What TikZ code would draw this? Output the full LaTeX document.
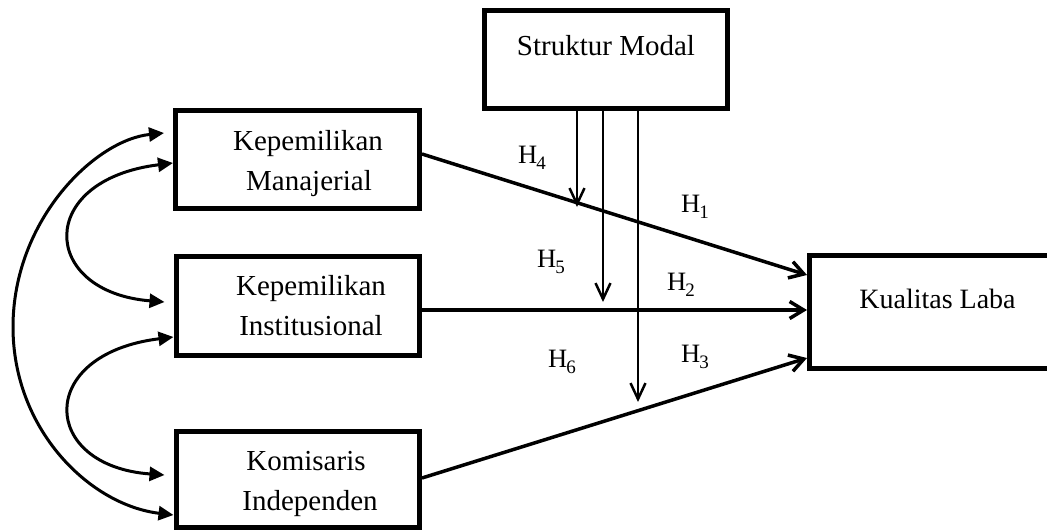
\documentclass[tikz,border=0pt]{standalone}
\usepackage{fontspec}
\setmainfont{Liberation Serif}
\usetikzlibrary{arrows.meta,calc}
\newcommand\Hlab[1]{H\kern-1pt\raisebox{-6.5pt}{\fontsize{19}{19}\selectfont #1}}
\tikzset{
  boxnode/.style={draw, line width=5pt, minimum width=#1, inner sep=0pt, rectangle},
  boxtext/.style={anchor=base, inner sep=0pt, font=\fontsize{29}{35}\selectfont},
  hlabel/.style={anchor=base west, inner sep=0pt, font=\fontsize{26.5}{30}\selectfont},
  patharrow/.style={line width=3.5pt, -{Straight Barb[length=14pt,width=17pt]}},
  modarrow/.style={line width=2.5pt, -{Straight Barb[length=16pt,width=15pt]}},
  corrarrow/.style={line width=3pt, {Triangle[length=15pt,width=14pt]}-{Triangle[length=15pt,width=14pt]}}
}
\begin{document}
\begin{tikzpicture}[x=1pt,y=-1pt]
\useasboundingbox (0,0) rectangle (1047,530);
% boxes
\node[boxnode=244pt, minimum height=98pt] (km) at (297.5,159.5) {};
\node[boxnode=243.5pt, minimum height=99pt] (ki) at (297.75,306) {};
\node[boxnode=243.5pt, minimum height=96pt] (kom) at (297.75,479.5) {};
\node[boxnode=243pt, minimum height=98pt] (sm) at (606,59.5) {};
\node[boxnode=270pt, minimum height=112.5pt] (kl) at (944.5,311.75) {};
% texts
\node[boxtext] (km1) at (308,150) {Kepemilikan};
\node[boxtext] (km2) at (309,190) {Manajerial};
\node[boxtext] (ki1) at (311,295) {Kepemilikan};
\node[boxtext] (ki2) at (311,335) {Institusional};
\node[boxtext] (ko1) at (306,470) {Komisaris};
\node[boxtext] (ko2) at (310,510) {Independen};
\node[boxtext] (sm1) at (606,55) {Struktur Modal};
\node[boxtext, font=\fontsize{28}{34}\selectfont] (kl1) at (937.5,308) {Kualitas Laba};
% direct paths
\draw[patharrow] ($(km.east)+(0,-5.5)$) -- ($(kl.west)+(0,-36.75)$);
\draw[patharrow] ($(ki.east)+(0,4)$) -- ($(kl.west)+(0,-1.75)$);
\draw[patharrow] ($(kom.east)+(0,-1.5)$) -- ($(kl.west)+(0,46.25)$);
% moderation arrows
\coordinate (m1) at (577,207);
\coordinate (m2) at (603,302);
\coordinate (m3) at (638,402);
\draw[modarrow] ($(sm.south)+(-29,0)$) -- (m1);
\draw[modarrow] ($(sm.south)+(-3,0)$) -- (m2);
\draw[modarrow] ($(sm.south)+(32,0)$) -- (m3);
% correlation curves
\draw[corrarrow] ($(km.west)+(-9,-26.5)$) .. controls (95,140) and (13,220) .. (13,327)
   .. controls (13,430) and (90,505) .. ($(kom.west)+(0,35.5)$);
\draw[corrarrow] ($(km.west)+(0,3.5)$) .. controls (35,180) and (40,292) .. ($(ki.west)+(-9,-4)$);
\draw[corrarrow] ($(ki.west)+(0,31)$) .. controls (35,354) and (40,466) .. ($(kom.west)+(-9,-4.5)$);
% labels
\node[hlabel] (h4) at (518,163) {\Hlab{4}};
\node[hlabel] (h1) at (681,212) {\Hlab{1}};
\node[hlabel] (h5) at (537,267) {\Hlab{5}};
\node[hlabel] (h2) at (667,290) {\Hlab{2}};
\node[hlabel] (h6) at (548,367) {\Hlab{6}};
\node[hlabel] (h3) at (681,362) {\Hlab{3}};
\end{tikzpicture}
\end{document}
